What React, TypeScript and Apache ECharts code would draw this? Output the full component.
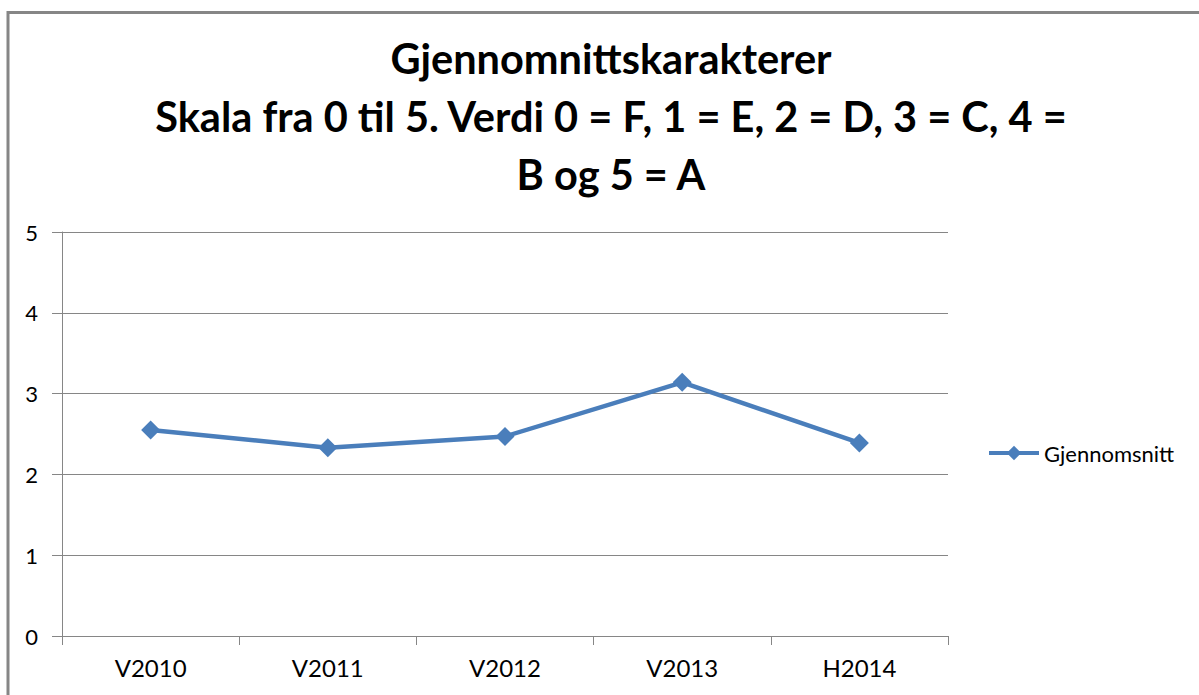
import React, { useEffect, useRef } from "react";
import * as echarts from "echarts";

const categories = ["V2010", "V2011", "V2012", "V2013", "H2014"];
const averages = [2.55, 2.33, 2.47, 3.14, 2.39];
const seriesName = "Gjennomsnitt";
const titleLines = [
  "Gjennomnittskarakterer",
  "Skala fra 0 til 5. Verdi 0 = F, 1 = E, 2 = D, 3 = C, 4 =",
  "B og 5 = A",
];
const yMin = 0;
const yMax = 5;
const yStep = 1;

export default function App() {
  const ref = useRef<HTMLDivElement>(null);
  useEffect(() => {
    document.body.style.margin = "0";
    const chart = echarts.init(ref.current!, null, { renderer: "svg" });
    const blue = "#4A7EBB";
    const gray = "#868686";
    chart.setOption({
      animation: false,
      backgroundColor: "#fff",
      title: {
        text: titleLines.join("\n"),
        left: 606,
        top: 24,
        textAlign: "center",
        textStyle: {
          fontFamily: "Lato",
          fontWeight: "bold",
          fontSize: 41.5,
          lineHeight: 58,
          color: "#000",
        },
      },
      graphic: [
        {
          type: "polyline",
          shape: { points: [[8, 695], [8, 12.5], [1199, 12.5]] },
          style: { stroke: gray, lineWidth: 3, fill: "none" },
          silent: true,
        },
      ],
      legend: {
        left: 987,
        top: 442,
        padding: 0,
        orient: "vertical",
        itemWidth: 50,
        itemHeight: 18,
        itemGap: 4,
        lineStyle: { width: 4 },
        textStyle: { fontFamily: "Lato", fontSize: 22, color: "#000" },
        data: [seriesName],
      },
      grid: { left: 62, right: 251, top: 232, bottom: 59, containLabel: false },
      xAxis: {
        type: "category",
        data: categories,
        boundaryGap: true,
        axisLine: { lineStyle: { color: gray, width: 1 } },
        axisTick: { show: true, length: 9, lineStyle: { color: gray } },
        axisLabel: { fontFamily: "Lato", fontSize: 24, color: "#000", margin: 19 },
        splitLine: { show: false },
      },
      yAxis: {
        type: "value",
        min: yMin,
        max: yMax,
        interval: yStep,
        axisLine: { show: true, lineStyle: { color: gray, width: 1 } },
        axisTick: { show: true, length: 10, lineStyle: { color: gray } },
        axisLabel: { fontFamily: "Lato", fontSize: 22, color: "#000", margin: 24 },
        splitLine: { show: true, lineStyle: { color: gray, width: 1 } },
      },
      series: [
        {
          name: seriesName,
          type: "line",
          data: averages,
          symbol: "diamond",
          symbolSize: 19,
          showSymbol: true,
          lineStyle: { color: blue, width: 4.5 },
          itemStyle: { color: blue },
        },
      ],
    });
    return () => chart.dispose();
  }, []);
  return <div ref={ref} style={{ width: 1199, height: 695 }} />;
}
